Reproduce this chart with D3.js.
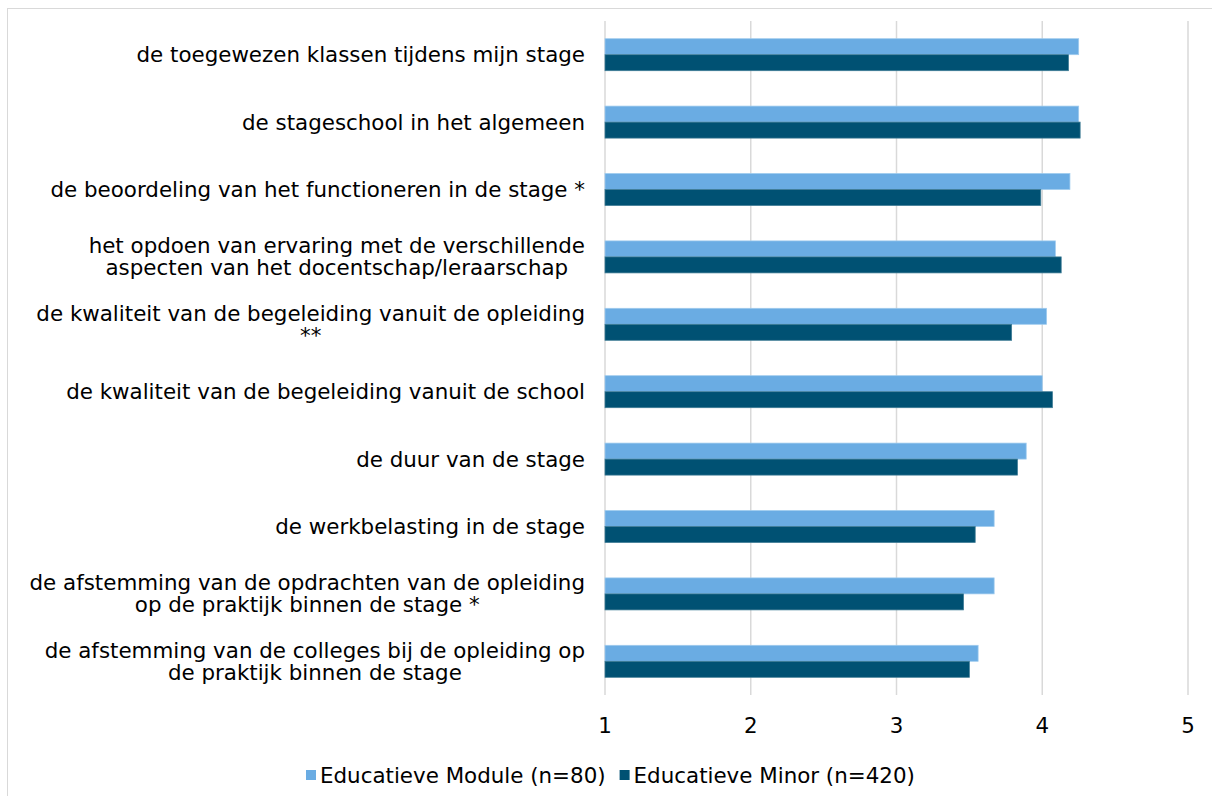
<!DOCTYPE html>
<html>
<head>
<meta charset="utf-8">
<script src="https://cdn.jsdelivr.net/npm/d3@7"></script>
<style>
  body { margin: 0; background: #fff; }
  svg { display: block; font-family: "DejaVu Sans", Verdana, sans-serif; }
</style>
</head>
<body>
<div id="chart"></div>
<script>
// Labels (lines split as in the original), top to bottom
const labels = [
    ["de toegewezen klassen tijdens mijn stage"],
    ["de stageschool in het algemeen"],
    ["de beoordeling van het functioneren in de stage *"],
    ["het opdoen van ervaring met de verschillende", "aspecten van het docentschap/leraarschap"],
    ["de kwaliteit van de begeleiding vanuit de opleiding", "**"],
    ["de kwaliteit van de begeleiding vanuit de school"],
    ["de duur van de stage"],
    ["de werkbelasting in de stage"],
    ["de afstemming van de opdrachten van de opleiding", "op de praktijk binnen de stage *"],
    ["de afstemming van de colleges bij de opleiding op", "de praktijk binnen de stage"]
];

const seriesNames = ["Educatieve Module (n=80)", "Educatieve Minor (n=420)"];
const moduleValues = [4.25, 4.25, 4.19, 4.09, 4.03, 4.00, 3.89, 3.67, 3.67, 3.56];
const minorValues  = [4.18, 4.26, 3.99, 4.13, 3.79, 4.07, 3.83, 3.54, 3.46, 3.50];
const xTicks = [1, 2, 3, 4, 5];

const colors = ["#6aace3", "#005173"];
const strokes = ["#9fcbee", "#3e7b95"];

const W = 1212, H = 796;
const pLeft = 605, pRight = 1188, pTop = 21, pBottom = 695;
const fs = 21.4;

const svg = d3.select("#chart").append("svg")
    .attr("width", W)
    .attr("height", H);

// outer chart border
svg.append("rect")
    .attr("x", 7.5).attr("y", 8.5)
    .attr("width", W + 20).attr("height", H + 20)
    .attr("fill", "none")
    .attr("stroke", "#d9d9d9")
    .attr("stroke-width", 1);

const x = d3.scaleLinear().domain([1, 5]).range([pLeft, pRight]);
const y = d3.scaleBand().domain(d3.range(labels.length)).range([pTop, pBottom]).paddingInner(0.525).paddingOuter(0.2625);
const ySub = d3.scaleBand().domain([0, 1]).range([0, y.bandwidth()]);

// gridlines
svg.append("g")
    .selectAll("line")
    .data(xTicks)
    .join("line")
        .attr("x1", d => x(d)).attr("x2", d => x(d))
        .attr("y1", pTop).attr("y2", pBottom)
        .attr("stroke", "#d9d9d9")
        .attr("stroke-width", 1.5);

// bars
const data = labels.map((l, i) => ({ i, vals: [moduleValues[i], minorValues[i]] }));
const groups = svg.append("g")
    .selectAll("g")
    .data(data)
    .join("g")
        .attr("transform", d => `translate(0, ${y(d.i)})`);

groups.selectAll("rect")
    .data(d => d.vals.map((v, s) => ({ v, s })))
    .join("rect")
        .attr("x", x(1))
        .attr("y", d => ySub(d.s))
        .attr("width", d => x(d.v) - x(1))
        .attr("height", ySub.bandwidth())
        .attr("fill", d => colors[d.s])
        .attr("stroke", d => strokes[d.s])
        .attr("stroke-width", 0.75);

// x tick labels
svg.append("g")
    .selectAll("text")
    .data(xTicks)
    .join("text")
        .attr("x", d => x(d))
        .attr("y", 733)
        .attr("text-anchor", "middle")
        .attr("font-size", fs)
        .attr("fill", "#000")
        .text(d => d);

// category labels, lines centred within a right-aligned block
const labelRight = 585;
const lineH = 22;
const labelG = svg.append("g");
labels.forEach((lines, i) => {
    const cy = y(i) + y.bandwidth() / 2;
    const g = labelG.append("g");
    const texts = lines.map((ln, k) => g.append("text")
        .attr("font-size", fs)
        .attr("fill", "#000")
        .attr("text-anchor", "middle")
        .attr("y", cy + (k - (lines.length - 1) / 2) * lineH + 7.5)
        .text(ln));
    const maxW = d3.max(texts, t => t.node().getComputedTextLength());
    texts.forEach(t => t.attr("x", labelRight - maxW / 2));
});

// legend
const legend = svg.append("g").attr("transform", "translate(306, 775)");
let lx = 0;
seriesNames.forEach((name, s) => {
    legend.append("rect")
        .attr("x", lx).attr("y", -5)
        .attr("width", 10).attr("height", 10)
        .attr("fill", colors[s]);
    const t = legend.append("text")
        .attr("x", lx + 14)
        .attr("y", 7.5)
        .attr("font-size", fs)
        .attr("fill", "#000")
        .text(name);
    lx += 14 + t.node().getComputedTextLength() + 14;
});
</script>
</body>
</html>
